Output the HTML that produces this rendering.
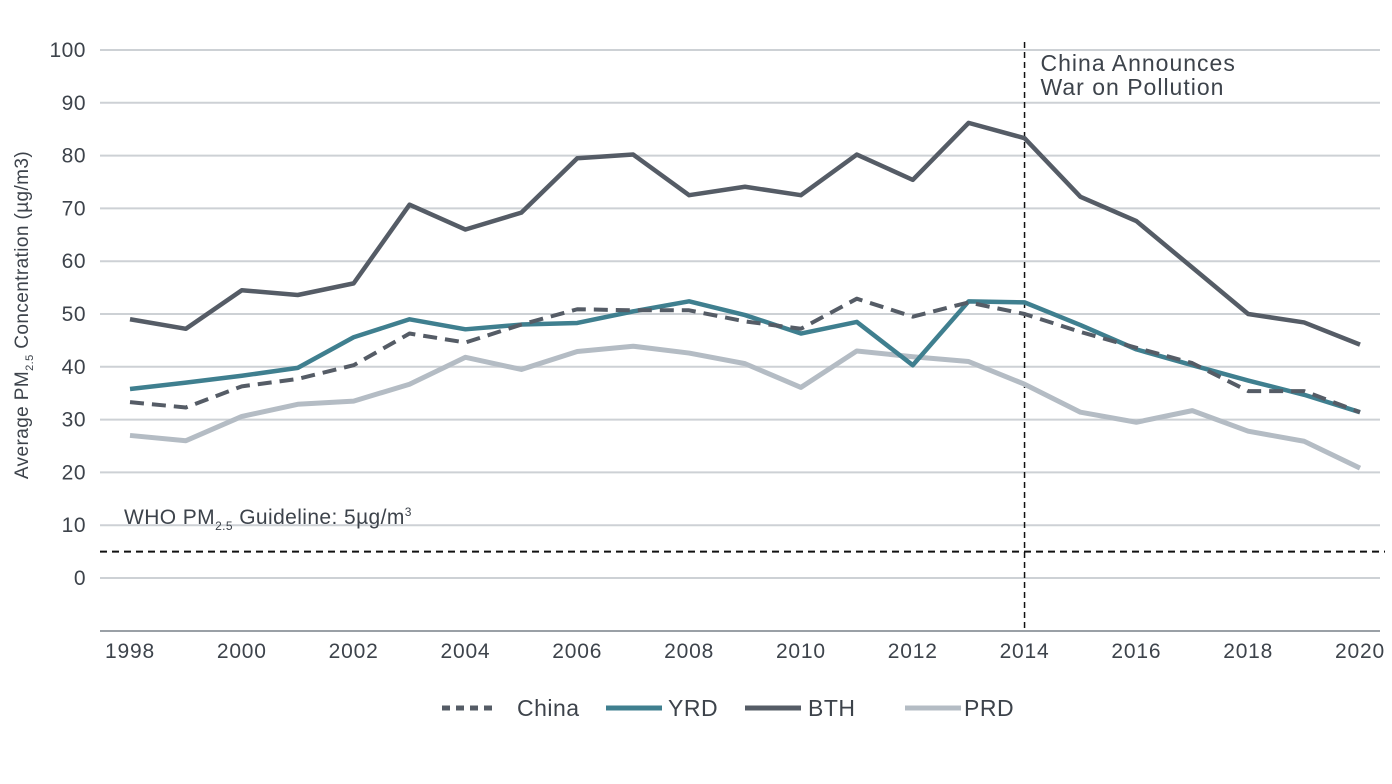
<!DOCTYPE html>
<html><head><meta charset="utf-8"><style>
html,body{margin:0;padding:0;background:#fff;}
svg{display:block;font-family:"Liberation Sans",sans-serif;}
</style></head><body>
<svg id="chart" width="1392" height="784" viewBox="0 0 1392 784"></svg>
<script>
const years = [1998,1999,2000,2001,2002,2003,2004,2005,2006,2007,2008,2009,2010,2011,2012,2013,2014,2015,2016,2017,2018,2019,2020];
const bth = [49,47.2,54.5,53.6,55.8,70.7,66,69.2,79.5,80.2,72.5,74.1,72.5,80.2,75.4,86.2,83.3,72.2,67.6,58.8,50,48.4,44.2];
const yrd = [35.8,37,38.3,39.8,45.6,49,47.1,48,48.3,50.5,52.4,49.8,46.3,48.5,40.3,52.4,52.2,47.9,43.3,40.3,37.4,34.7,31.4];
const china = [33.3,32.3,36.3,37.7,40.3,46.3,44.6,48,50.9,50.7,50.7,48.6,47.2,52.9,49.5,52.2,50,46.6,43.6,40.7,35.4,35.4,31.4];
const prd = [27,26,30.6,32.9,33.5,36.7,41.8,39.5,42.9,43.9,42.6,40.6,36.1,43,41.9,41,36.7,31.4,29.5,31.7,27.8,25.9,20.8];
const yTicks = [0,10,20,30,40,50,60,70,80,90,100];
const xTickLabels = [1998,2000,2002,2004,2006,2008,2010,2012,2014,2016,2018,2020];
const guideline = 5;
const announceYear = 2014;

const svg = document.getElementById('chart');
const NS = 'http://www.w3.org/2000/svg';
const xS = y => 130 + (y - 1998) * (1360 - 130) / 22;
const yS = v => 578 - v * 5.28;
function mk(tag, attrs, parent){const e=document.createElementNS(NS,tag);for(const k in attrs)e.setAttribute(k,attrs[k]);(parent||svg).appendChild(e);return e;}

yTicks.forEach(t=>{
  const g=mk('line',{x1:100,x2:1380,y1:yS(t),y2:yS(t),stroke:'#cdd1d5','stroke-width':2});
  
  
  const l=mk('text',{x:86,y:yS(t)+7,'text-anchor':'end','font-size':21,fill:'#3d434b','letter-spacing':0.5});
  l.textContent=t;
  
  
});
const ax=mk('line',{x1:100,x2:1380,y1:631,y2:631,stroke:'#9aa0a6','stroke-width':2});


xTickLabels.forEach(y=>{
  const l=mk('text',{x:xS(y),y:658,'text-anchor':'middle','font-size':21,fill:'#3d434b','letter-spacing':0.8});
  l.textContent=y;
  
  
});
const yt=mk('text',{transform:'translate(28,315) rotate(-90)','text-anchor':'middle','font-size':19,fill:'#3d434b','letter-spacing':0.4});
yt.innerHTML='Average PM<tspan font-size="11" dy="5">2.5</tspan><tspan dy="-5">  Concentration  (µg/m3)</tspan>';



const gl=mk('line',{x1:100,x2:1385,y1:yS(guideline),y2:yS(guideline),stroke:'#111','stroke-width':2,'stroke-dasharray':'7,5'});


const glt=mk('text',{x:124,y:524,'font-size':21,fill:'#3d434b','letter-spacing':0.4});
glt.innerHTML='WHO PM<tspan font-size="12" dy="6">2.5</tspan><tspan dy="-6"> Guideline: 5µg/m</tspan><tspan font-size="12" dy="-8">3</tspan>';



const vl=mk('line',{x1:xS(announceYear),x2:xS(announceYear),y1:42,y2:631,stroke:'#111','stroke-width':1.5,'stroke-dasharray':'6,4'});


const at=mk('text',{x:xS(announceYear)+16,y:71,'font-size':23,fill:'#3d434b','letter-spacing':1});
at.innerHTML='<tspan>China Announces</tspan><tspan x="'+(xS(announceYear)+16)+'" dy="24">War on Pollution</tspan>';



function series(vals,color,dash,name,w){
  const p=mk('polyline',{points:vals.map((v,i)=>xS(years[i])+','+yS(v)).join(' '),fill:'none',stroke:color,'stroke-width':w,'stroke-linejoin':'round'});
  if(dash)p.setAttribute('stroke-dasharray',dash);
  
  
}
series(prd,'#b4bcc4',null,'prd-line',5);
series(bth,'#555c66',null,'bth-line',4.5);
series(yrd,'#3f7f8f',null,'yrd-line',4.5);
series(china,'#555c66','14,8','china-line',4);

const legend=[['China','#555c66','8,6',442,517],['YRD','#3f7f8f',null,606,668],['BTH','#555c66',null,745,808],['PRD','#b4bcc4',null,905,964]];
legend.forEach(([n,c,d,x,tx])=>{
  const l=mk('line',{x1:x,x2:x+56,y1:708,y2:708,stroke:c,'stroke-width':5});
  if(d)l.setAttribute('stroke-dasharray',d);
  
  
  const t=mk('text',{x:tx,y:716,'font-size':23,fill:'#3d434b','letter-spacing':0.5});
  t.textContent=n;
  
  
});
</script>
</body></html>
